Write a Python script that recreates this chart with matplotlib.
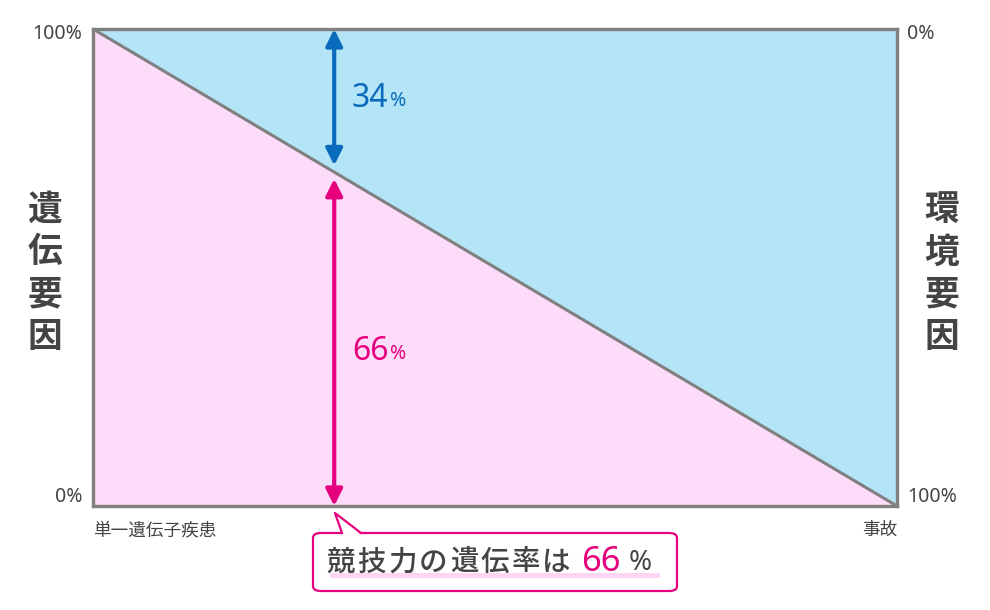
import matplotlib
matplotlib.use("Agg")
import matplotlib.pyplot as plt
from matplotlib.patches import FancyBboxPatch, Polygon
from matplotlib.lines import Line2D

plt.rcParams['font.family'] = ['Noto Sans CJK JP', 'DejaVu Sans']
LATIN = ['Noto Sans', 'Noto Sans CJK JP']

# données
spectre = [0, 100]            # position sur l'axe : maladie monogénique -> accident
part_genetique = [100, 0]     # part génétique aux deux extrémités
pos_competence = 30           # position du « competitive ability » sur l'axe
heritabilite = 66
part_env = 100 - heritabilite

ticks_gauche = ["0%", "100%"]
ticks_droite = ["100%", "0%"]
label_gauche = "遺伝要因"
label_droite = "環境要因"
extremites = ["単一遺伝子疾患", "事故"]
bulle = "競技力の遺伝率は"

BLEU_FOND = "#b3e5f6"
ROSE_FOND = "#fddcf9"
BLEU = "#0a6abb"
ROSE = "#e6007e"
GRIS = "#808080"
TEXTE = "#444444"

W, H = 990, 610
fig = plt.figure(figsize=(W / 100, H / 100), dpi=100)


def fx(x):
    return x / W


def fy(y):
    return 1 - y / H


ax = fig.add_axes([fx(93), fy(506), fx(897) - fx(93), fy(29) - fy(506)])
ax.set_xlim(0, 100)
ax.set_ylim(0, 100)

ax.fill_between(spectre, part_genetique, 100, color=BLEU_FOND, lw=0)
ax.fill_between(spectre, 0, part_genetique, color=ROSE_FOND, lw=0)
ax.plot(spectre, part_genetique, color=GRIS, lw=2.2, solid_capstyle='butt')

for s in ax.spines.values():
    s.set_color(GRIS)
    s.set_linewidth(2.4)
ax.set_xticks([])
ax.set_yticks([])

# flèches
y_ligne = 100 - pos_competence
ax.annotate('', xy=(pos_competence, 100), xytext=(pos_competence, y_ligne + 1.4),
            arrowprops=dict(arrowstyle='<|-|>', color=BLEU, lw=3,
                            mutation_scale=25, shrinkA=0, shrinkB=0))
ax.annotate('', xy=(pos_competence, 0), xytext=(pos_competence, y_ligne - 1.4),
            arrowprops=dict(arrowstyle='<|-|>', color=ROSE, lw=3,
                            mutation_scale=25, shrinkA=0, shrinkB=0))

fig.canvas.draw()
r = fig.canvas.get_renderer()
for val, yv, col in [(part_env, 85.5, BLEU), (heritabilite, 32.3, ROSE)]:
    t = ax.text(pos_competence + 2.2, yv, str(val), color=col, fontsize=23,
                va='center', ha='left', family=LATIN)
    bb = t.get_window_extent(r)
    fig.text(bb.x1 / W + 0.002, (bb.y0 + bb.y1) / 2 / H - 0.004, "%", color=col,
             fontsize=14, va='center', family=LATIN)

# graduations
fig.text(fx(82), fy(34), ticks_gauche[1], ha='right', va='center', fontsize=14, color=TEXTE, family=LATIN)
fig.text(fx(82), fy(497), ticks_gauche[0], ha='right', va='center', fontsize=14, color=TEXTE, family=LATIN)
fig.text(fx(907), fy(34), ticks_droite[1], ha='left', va='center', fontsize=14, color=TEXTE, family=LATIN)
fig.text(fx(907), fy(497), ticks_droite[0], ha='left', va='center', fontsize=14, color=TEXTE, family=LATIN)

fig.text(fx(93), fy(530), extremites[0], ha='left', va='center', fontsize=12.7, color=TEXTE)
fig.text(fx(897), fy(530), extremites[1], ha='right', va='center', fontsize=12.7, color=TEXTE)

# étiquettes verticales
fig.text(fx(45), fy(273), "\n".join(label_gauche), ha='center', va='center',
         fontsize=25, color=TEXTE, weight='semibold', linespacing=1.27)
fig.text(fx(942), fy(273), "\n".join(label_droite), ha='center', va='center',
         fontsize=25, color=TEXTE, weight='semibold', linespacing=1.27)

# bulle
boite = FancyBboxPatch((fx(313), fy(591)), fx(677) - fx(313), fy(533) - fy(591),
                       boxstyle="round,pad=0,rounding_size=0.008",
                       transform=fig.transFigure, facecolor='white',
                       edgecolor=ROSE, lw=1.6)
fig.patches.append(boite)
queue = [(fx(342), fy(534.5)), (fx(335), fy(513)), (fx(361), fy(534.5))]
fig.patches.append(Polygon(queue, closed=True, transform=fig.transFigure,
                           facecolor='white', edgecolor='none'))
fig.lines.append(Line2D([fx(342), fx(335), fx(361)], [fy(533), fy(513), fy(533)],
                        transform=fig.transFigure, color=ROSE, lw=1.6))

# surlignage sous le texte
fig.patches.append(plt.Rectangle((fx(330), fy(578)), fx(660) - fx(330), fy(573) - fy(578),
                                 transform=fig.transFigure, facecolor="#fcd6f4",
                                 edgecolor='none'))

# texte de la bulle, caractère par caractère (interlettrage)
for i, c in enumerate(bulle):
    fig.text(fx(341 + i * 30.8), fy(562), c, ha='center', va='center', fontsize=20.5,
             color=TEXTE, weight='medium')
tn = fig.text(fx(581), fy(562), str(heritabilite), ha='left', va='center', fontsize=25,
              color=ROSE, family=LATIN)
bb = tn.get_window_extent(r)
fig.text(bb.x1 / W + 0.008, fy(563), "%", ha='left', va='center', fontsize=20,
         color=TEXTE, family=LATIN)

fig.savefig("out.png", dpi=100)
